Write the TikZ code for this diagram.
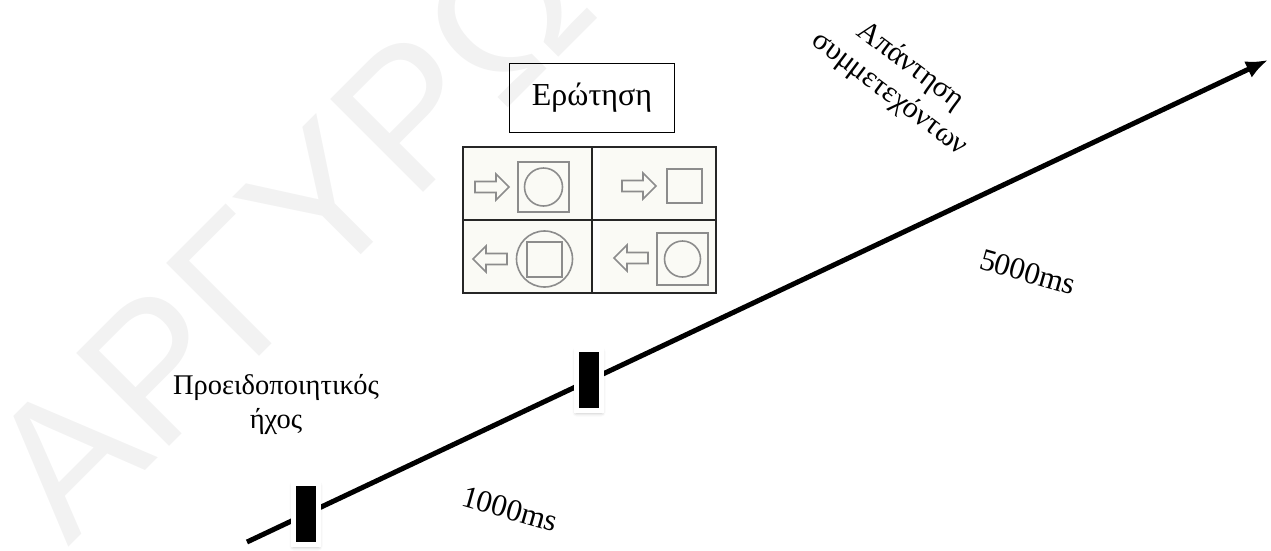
\documentclass[tikz,border=0pt]{standalone}
\usepackage{fontspec}
\setmainfont{Liberation Serif}
\newfontfamily\wmfont{Liberation Sans}
\usepackage{tikz}
\usepackage{xcolor}
\usetikzlibrary{arrows.meta, shadows.blur}

\definecolor{cellbg}{RGB}{250,250,245}

\tikzset{
	rarrow/.pic={\draw[figline] (0,-5.5) -- (21,-5.5) -- (21,-13) -- (34,0) -- (21,13) -- (21,5.5) -- (0,5.5) -- cycle;}
}

\begin{document}
\begin{tikzpicture}[x=1pt, y=-1pt,
		marker/.style={fill=black, draw=white, line width=5pt, inner sep=0pt,
			minimum width=25pt, minimum height=61pt,
			blur shadow={shadow xshift=0pt, shadow yshift=-2pt, shadow blur radius=4pt, shadow opacity=35}},
		figline/.style={draw=gray!90, line width=1.6pt},
		lbl/.style={font=\fontsize{28.5}{34}\selectfont, align=center, inner sep=0pt}]
			\useasboundingbox (0,0) rectangle (1271,550);
			\clip (0,0) rectangle (1271,550);
			
			% Watermark
			\node[black!5, rotate=45, anchor=base west, inner sep=0pt, font=\wmfont\fontsize{191}{191}\selectfont] (wm) at (68,548) {ΑΡΓΥΡΩ};
			
			% Question and the four stimuli
			\node[draw, line width=1.2pt, minimum width=165pt, minimum height=69pt, font=\fontsize{32}{38}\selectfont] (question) at (592,98) {Ερώτηση};
			\fill[cellbg] (463,147) rectangle (592,293);
			\fill[cellbg] (600,147) rectangle (716,293);
			\draw[line width=2pt, black!85] (463,147) rectangle (716,293) (592,147) -- (592,293) (463,220) -- (716,220);
			
			\pic at (475,187) {rarrow};
			\draw[figline] (518,162) rectangle (569,212);
			\draw[figline] (543.5,187) circle[radius=19pt];
			
			\pic at (622,186) {rarrow};
			\draw[figline] (667,169) rectangle (702,203);
			
			\pic[xscale=-1] at (507,259) {rarrow};
			\draw[figline] (544.5,259) circle[radius=28pt];
			\draw[figline] (527,242) rectangle (562,277);
			
			\pic[xscale=-1] at (648,258) {rarrow};
			\draw[figline] (657,233) rectangle (708,285);
			\draw[figline] (682.5,259) circle[radius=18pt];
			
			% Time axis
			\coordinate (t0) at (247,542);
			\coordinate (t1) at (1268,60);
			\draw[line width=5pt, -{Latex[length=22pt, width=18pt]}] (t0) -- (t1);
			
			% Events on the axis
			\node[marker] (beep) at (306,514) {};
			\node[marker] (probe) at (589,380) {};
			
			% Labels
			\node[lbl] (beeplabel) at (276,404) {Προειδοποιητικός\\ήχος};
			\node[lbl, rotate=-16, font=\fontsize{31}{36}\selectfont] (isi) at (510,509) {1000ms};
			\node[lbl, rotate=-16, font=\fontsize{31}{36}\selectfont] (window) at (1028,272) {5000ms};
			\node[lbl, rotate=-37, font=\fontsize{30}{35}\selectfont] (resp) at (900,80) {Απάντηση\\συμμετεχόντων};
		\end{tikzpicture}
\end{document}
